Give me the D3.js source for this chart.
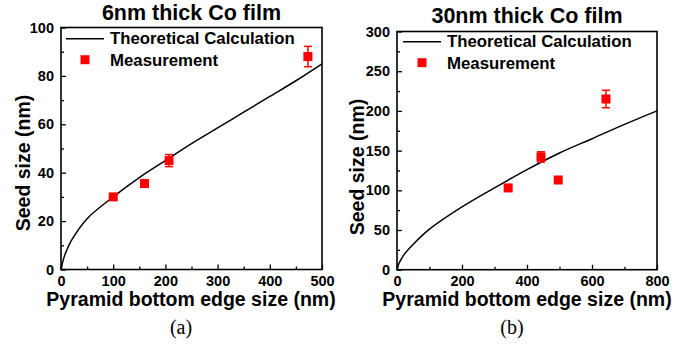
<!DOCTYPE html>
<html>
<head>
<meta charset="utf-8">
<script src="https://cdn.jsdelivr.net/npm/d3@7"></script>
<style>
  body { margin: 0; background: #fff; }
  svg { display: block; font-family: Arial, "Liberation Sans", sans-serif; }
  .tick text { font-weight: bold; font-size: 14.5px; fill: #000; }
</style>
</head>
<body>
<script>
// (a) 6nm thick Co film
const thinCurveX = [0, 5, 10, 20, 50, 100, 150, 200, 250, 300, 350, 400, 450, 500];
const thinCurveY = [0, 4.5, 7.5, 12, 21, 30, 38, 45, 52, 58.5, 65, 71.5, 78, 85];
const thinPointX = [100, 160, 207, 473];
const thinPointY = [30, 35.5, 45, 88];
const thinPointErr = [1, 1.5, 2.5, 4.2];

// (b) 30nm thick Co film
const thickCurveX = [0, 5, 10, 20, 50, 100, 200, 300, 400, 500, 600, 700, 800];
const thickCurveY = [0, 7, 11, 18, 32, 51, 79, 103, 126, 147, 165, 183, 200];
const thickPointX = [342, 443, 496, 643];
const thickPointY = [103, 142, 113, 215];
const thickPointErr = [3, 6.5, 4, 11];

const xTicksA = [0, 100, 200, 300, 400, 500];
const yTicksA = [0, 20, 40, 60, 80, 100];
const xTicksB = [0, 200, 400, 600, 800];
const yTicksB = [0, 50, 100, 150, 200, 250, 300];

const W = 692, H = 344;

const svg = d3.select('body')
  .append('svg')
    .attr('width', W)
    .attr('height', H);

svg.append('rect').attr('width', W).attr('height', H).attr('fill', '#fff');

function drawPanel(p) {
  const x = d3.scaleLinear().domain([0, p.xMax]).range([p.left, p.right]);
  const y = d3.scaleLinear().domain([0, p.yMax]).range([p.bottom, p.top]);

  const g = svg.append('g');

  // minor ticks
  g.append('g')
    .attr('transform', `translate(0, ${p.bottom})`)
    .call(d3.axisBottom(x).tickValues(d3.range(p.xMinor, p.xMax, p.xMinor * 2)).tickSize(-3).tickFormat(''))
    .call((a) => a.select('.domain').remove());
  g.append('g')
    .attr('transform', `translate(${p.left}, 0)`)
    .call(d3.axisLeft(y).tickValues(d3.range(p.yMinor, p.yMax, p.yMinor * 2)).tickSize(-3).tickFormat(''))
    .call((a) => a.select('.domain').remove());

  // major ticks + labels
  g.append('g')
    .attr('transform', `translate(0, ${p.bottom})`)
    .call(d3.axisBottom(x).tickValues(p.xTicks).tickSize(-5).tickPadding(6).tickFormat(d3.format('d')))
    .call((a) => a.select('.domain').remove());
  g.append('g')
    .attr('transform', `translate(${p.left}, 0)`)
    .call(d3.axisLeft(y).tickValues(p.yTicks).tickSize(-5).tickPadding(7).tickFormat(d3.format('d')))
    .call((a) => a.select('.domain').remove());

  g.selectAll('.tick line').attr('stroke', '#000').attr('stroke-width', 1.3);

  // frame
  g.append('rect')
    .attr('x', p.left).attr('y', p.top)
    .attr('width', p.right - p.left).attr('height', p.bottom - p.top)
    .attr('fill', 'none').attr('stroke', '#000').attr('stroke-width', 1.6);

  // theoretical curve
  const line = d3.line()
    .x((d) => x(d[0]))
    .y((d) => y(d[1]))
    .curve(d3.curveCatmullRom.alpha(0.5));
  g.append('path')
    .datum(p.curveX.map((v, i) => [v, p.curveY[i]]))
    .attr('d', line)
    .attr('fill', 'none')
    .attr('stroke', '#000')
    .attr('stroke-width', 1.5);

  // measurements
  const pts = p.pointX.map((v, i) => ({ x: v, y: p.pointY[i], e: p.pointErr[i] }));
  const m = g.selectAll('g.pt').data(pts).join('g').attr('class', 'pt');
  m.append('line')
    .attr('x1', (d) => x(d.x)).attr('x2', (d) => x(d.x))
    .attr('y1', (d) => y(d.y - d.e)).attr('y2', (d) => y(d.y + d.e))
    .attr('stroke', '#f00').attr('stroke-width', 1.5);
  [-1, 1].forEach((s) => {
    m.append('line')
      .attr('x1', (d) => x(d.x) - 4).attr('x2', (d) => x(d.x) + 4)
      .attr('y1', (d) => y(d.y + s * d.e)).attr('y2', (d) => y(d.y + s * d.e))
      .attr('stroke', '#f00').attr('stroke-width', 1.5);
  });
  m.append('rect')
    .attr('x', (d) => x(d.x) - 4.5).attr('y', (d) => y(d.y) - 4.5)
    .attr('width', 9).attr('height', 9)
    .attr('fill', '#f00');

  // legend
  g.append('line')
    .attr('x1', p.legX).attr('x2', p.legX + 38)
    .attr('y1', p.legY).attr('y2', p.legY)
    .attr('stroke', '#000').attr('stroke-width', 1.5);
  g.append('text')
    .attr('x', p.legX + 44).attr('y', p.legY + 5.5)
    .attr('font-weight', 'bold').attr('font-size', 16.8)
    .text('Theoretical Calculation');
  g.append('rect')
    .attr('x', p.legX + 19 - 4.5).attr('y', p.legY + 21 - 4.5)
    .attr('width', 9).attr('height', 9).attr('fill', '#f00');
  g.append('text')
    .attr('x', p.legX + 44).attr('y', p.legY + 27)
    .attr('font-weight', 'bold').attr('font-size', 16.8)
    .text('Measurement');

  // titles
  g.append('text')
    .attr('x', (p.left + p.right) / 2).attr('y', p.titleY)
    .attr('text-anchor', 'middle')
    .attr('font-weight', 'bold').attr('font-size', 21.5)
    .text(p.title);
  g.append('text')
    .attr('x', p.xLabelX).attr('y', 306)
    .attr('text-anchor', 'middle')
    .attr('font-weight', 'bold').attr('font-size', 19.5)
    .text('Pyramid bottom edge size (nm)');
  g.append('text')
    .attr('transform', `translate(${p.yLabelX}, ${p.yLabelY}) rotate(-90)`)
    .attr('text-anchor', 'middle')
    .attr('font-weight', 'bold').attr('font-size', 19.5)
    .text('Seed size (nm)');
  g.append('text')
    .attr('x', p.capX).attr('y', 334)
    .attr('text-anchor', 'middle')
    .attr('font-family', '"Liberation Serif", "DejaVu Serif", serif')
    .attr('font-size', 20)
    .text(p.caption);
}

drawPanel({
  left: 61, right: 322, top: 27.5, bottom: 269.5,
  xMax: 500, yMax: 100, xMinor: 50, yMinor: 10,
  xTicks: xTicksA, yTicks: yTicksA,
  curveX: thinCurveX, curveY: thinCurveY,
  pointX: thinPointX, pointY: thinPointY, pointErr: thinPointErr,
  legX: 66, legY: 38.7,
  title: '6nm thick Co film', titleY: 19.5,
  xLabelX: 191, yLabelX: 30, yLabelY: 163,
  caption: '(a)', capX: 181
});

drawPanel({
  left: 397, right: 657, top: 31.5, bottom: 269.7,
  xMax: 800, yMax: 300, xMinor: 100, yMinor: 25,
  xTicks: xTicksB, yTicks: yTicksB,
  curveX: thickCurveX, curveY: thickCurveY,
  pointX: thickPointX, pointY: thickPointY, pointErr: thickPointErr,
  legX: 403, legY: 41.7,
  title: '30nm thick Co film', titleY: 22.5,
  xLabelX: 527, yLabelX: 364, yLabelY: 167,
  caption: '(b)', capX: 512
});
</script>
</body>
</html>
